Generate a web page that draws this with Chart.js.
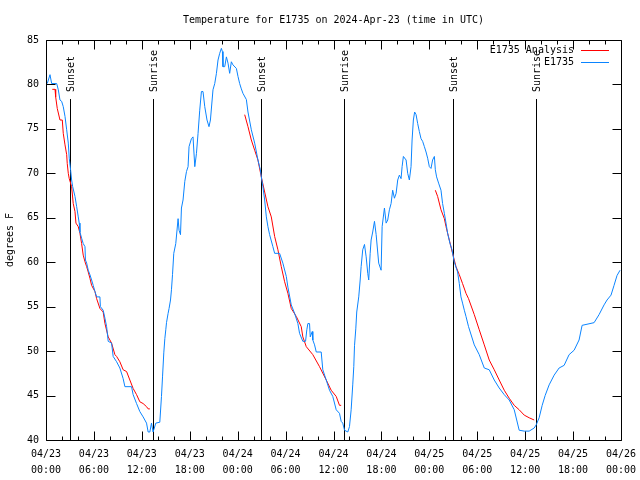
<!DOCTYPE html>
<html><head><meta charset="utf-8">
<script src="https://cdn.jsdelivr.net/npm/chart.js@4.4.1/dist/chart.umd.min.js"></script>
<style>html,body{margin:0;padding:0;background:#fff}canvas{display:block}</style>
</head><body>
<canvas id="c" width="640" height="480"></canvas>
<script>
// ---- data (hours since 2024-04-23 00:00 UTC, degrees F) ----
const obsHours = [0.16,0.5,0.71,1.34,1.54,1.75,1.96,2.16,2.38,2.59,2.79,2.91,3.09,3.21,3.34,3.63,3.84,4.04,4.16,4.25,4.46,4.66,4.88,4.94,5.09,5.29,5.5,5.71,5.91,6.13,6.34,6.75,6.81,7.16,7.38,7.59,7.79,8.21,8.41,8.84,9.25,9.66,9.88,10.71,10.91,11.34,11.75,12.16,12.59,12.79,13.0,13.21,13.41,13.75,14.25,14.46,14.59,14.75,14.88,15.0,15.09,15.29,15.41,15.59,15.71,15.84,16.0,16.25,16.54,16.66,16.84,16.96,17.16,17.38,17.59,17.79,17.91,18.21,18.41,18.63,18.84,19.04,19.25,19.46,19.66,19.88,20.16,20.41,20.59,20.91,21.13,21.34,21.54,21.75,21.96,22.09,22.16,22.38,22.59,22.79,23.0,23.21,23.41,23.84,24.04,24.25,24.46,24.66,25.09,25.29,25.71,26.13,26.54,26.84,26.96,27.16,27.38,27.59,27.79,28.0,28.41,28.63,29.25,29.66,30.09,30.29,30.71,31.13,31.54,31.75,32.16,32.5,32.66,32.79,33.0,33.09,33.34,33.41,33.63,33.84,34.46,34.66,35.09,35.5,35.91,36.34,36.75,36.96,37.16,37.38,37.79,38.0,38.21,38.41,38.54,38.63,38.79,38.91,39.16,39.34,39.46,39.66,39.88,40.09,40.29,40.41,40.59,40.71,40.91,41.13,41.34,41.66,41.96,42.09,42.38,42.59,42.79,43.0,43.21,43.41,43.63,43.84,44.04,44.25,44.46,44.59,44.75,45.09,45.29,45.5,45.71,45.84,46.0,46.16,46.34,46.54,46.75,46.96,47.16,47.38,47.59,47.79,48.0,48.21,48.41,48.63,48.75,48.91,49.16,49.46,49.66,49.88,50.09,50.29,50.59,50.84,51.13,51.54,51.75,51.96,52.16,52.38,52.59,52.91,53.63,54.25,54.88,55.5,56.13,56.75,57.38,58.0,58.63,59.25,59.88,60.5,61.13,61.38,61.75,62.13,62.5,63.0,63.63,64.25,64.88,65.5,66.13,66.75,67.13,68.63,69.25,69.88,70.25,70.75,71.13,71.5,71.88];
const obsTemps = [80.1,81.1,80.1,80.1,79.4,78.25,78.1,77.5,76.4,74.9,73.4,71.7,70.3,69.25,68.5,67.4,66.25,65.1,64.4,63.4,62.7,62.1,61.75,60.25,59.9,59.1,58.6,58.0,57.4,56.7,56.1,56.1,55.0,54.6,53.7,52.75,51.1,50.9,49.4,48.8,48.1,46.9,46.0,46.0,45.1,44.1,43.2,42.6,41.9,40.9,40.9,41.9,40.9,41.9,42.0,44.9,47.1,49.8,51.4,52.4,53.2,54.25,54.8,55.75,56.9,58.6,61.0,62.1,64.9,63.6,63.1,66.1,67.0,69.1,70.2,70.75,73.0,73.9,74.1,70.75,72.25,74.5,77.1,79.2,79.2,77.5,76.0,75.25,76.0,79.4,80.1,81.25,82.75,83.5,84.06,83.7,82.0,82.0,83.1,82.4,81.25,82.55,82.2,81.8,80.9,80.1,79.5,79.0,78.3,76.9,74.9,73.4,71.5,70.4,69.6,68.5,67.0,65.1,64.0,63.1,61.75,61.0,61.0,59.9,58.4,57.2,55.2,54.25,53.1,52.0,51.1,51.1,52.4,53.1,53.1,51.6,52.2,51.25,50.7,49.9,49.9,47.9,46.75,45.6,44.9,43.4,43.0,42.1,41.9,41.1,40.9,41.5,43.4,46.2,48.25,50.6,52.5,54.4,56.1,58.0,59.5,61.4,62.0,60.6,58.75,58.0,61.0,62.5,63.4,64.6,63.1,59.9,59.1,64.0,66.1,64.4,64.75,65.9,66.6,68.1,67.2,67.75,69.25,69.8,69.4,70.75,71.9,71.5,70.0,69.25,70.75,73.75,76.0,76.9,76.6,75.6,74.7,73.9,73.6,73.0,72.4,71.7,70.75,70.55,71.5,71.9,70.4,69.6,68.9,68.1,66.6,65.5,64.4,63.25,62.1,61.4,60.0,58.9,57.6,56.1,55.4,54.6,53.9,52.75,50.7,49.6,48.1,47.9,46.75,45.85,45.1,44.5,43.4,41.1,41.0,41.0,41.35,41.7,42.5,43.9,45.0,46.2,47.3,48.1,48.4,49.6,50.1,51.25,52.9,53.2,54.1,55.2,55.75,56.3,57.4,58.5,59.1];

const ana1Hours = [0.79,1.13,1.21,1.41,1.75,2.04,2.16,2.38,2.59,2.66,2.79,2.91,3.21,3.41,3.63,3.75,4.04,4.25,4.46,4.66,4.88,5.09,5.29,5.5,5.71,6.13,6.34,6.75,7.16,7.38,7.79,8.21,8.63,8.84,9.25,9.66,10.09,10.5,10.91,11.34,11.75,12.16,12.59,12.79,13.0];
const ana1Temps = [79.45,79.45,78.6,77.3,76.0,76.0,74.5,73.2,72.1,71.1,70.0,69.4,68.5,66.6,65.7,64.4,64.0,63.25,62.1,60.8,60.05,59.5,58.9,58.2,57.4,56.7,55.9,54.8,54.4,53.1,51.6,50.9,49.6,49.4,48.8,47.9,47.7,46.75,45.8,45.1,44.3,44.1,43.75,43.5,43.5];
const ana2Hours = [24.88,25.29,25.71,26.13,26.54,26.96,27.38,27.79,28.21,28.63,29.04,29.46,29.88,30.29,30.71,31.34,31.96,32.16,32.59,33.41,34.25,35.09,35.71,36.34,36.75,36.96];
const ana2Temps = [76.6,75.25,73.75,72.6,71.5,69.6,67.9,66.25,65.1,62.9,61.4,59.5,57.8,56.5,54.8,53.9,52.75,51.6,50.5,49.6,48.25,46.75,45.6,44.9,43.9,43.9];
const ana3Hours = [48.75,49.04,49.46,49.88,50.09,50.5,50.91,51.34,51.75,52.16,52.59,52.91,53.63,54.25,54.88,55.5,56.13,56.75,57.38,58.0,58.63,59.25,59.88,60.5,61.13];
const ana3Temps = [68.1,67.4,65.9,64.9,64.0,62.5,61.0,59.5,58.6,57.6,56.5,55.9,54.1,52.4,50.7,49.0,47.9,46.75,45.6,44.7,43.9,43.4,42.8,42.5,42.25];

const sunsetHours = [3.0, 26.95, 50.92];
const sunriseHours = [13.4, 37.35, 61.35];

const tickDates = ['04/23','04/23','04/23','04/23','04/24','04/24','04/24','04/24','04/25','04/25','04/25','04/25','04/26'];
const tickTimes = ['00:00','06:00','12:00','18:00','00:00','06:00','12:00','18:00','00:00','06:00','12:00','18:00','00:00'];
const yTickValues = [40,45,50,55,60,65,70,75,80,85];

const titleText = 'Temperature for E1735 on 2024-Apr-23 (time in UTC)';
const seriesNames = ['E1735 Analysis','E1735'];
const RED = '#ff0000', BLUE = '#0a84ff';
const FONT = '"DejaVu Sans Mono", "Liberation Mono", monospace';

const pts = (hs, ts) => hs.map((h, i) => ({x: h, y: ts[i]}));

Chart.defaults.font.family = FONT;
Chart.defaults.font.size = 10;
Chart.defaults.color = '#000';

const decor = {
  id: 'decor',
  beforeDatasetsDraw(chart) {
    const {ctx, chartArea: a, scales: {x}} = chart;
    ctx.save();
    ctx.strokeStyle = '#000'; ctx.lineWidth = 1;
    const lines = [...sunsetHours.map(h => [h, 'Sunset']), ...sunriseHours.map(h => [h, 'Sunrise'])];
    ctx.font = '10px ' + FONT; ctx.fillStyle = '#000';
    for (const [h, txt] of lines) {
      const px = Math.round(x.getPixelForValue(h)) + 0.5;
      ctx.beginPath(); ctx.moveTo(px, a.top + 59); ctx.lineTo(px, a.bottom); ctx.stroke();
      ctx.save();
      ctx.translate(px + 1, a.top + 52);
      ctx.rotate(-Math.PI / 2);
      ctx.textAlign = 'left'; ctx.textBaseline = 'middle';
      ctx.fillText(txt, 0, 0);
      ctx.restore();
    }
    ctx.restore();
  },
  afterDraw(chart) {
    const {ctx, chartArea: a, scales: {x, y}} = chart;
    ctx.save();
    ctx.strokeStyle = '#000'; ctx.lineWidth = 1;
    const L = Math.round(a.left) + 0.5, R = Math.round(a.right) + 0.5;
    const T = Math.round(a.top) + 0.5, B = Math.round(a.bottom) + 0.5;
    ctx.beginPath();
    ctx.rect(L, T, R - L, B - T);
    for (let h = 0; h <= 72; h += 2) {
      const px = Math.round(x.getPixelForValue(h)) + 0.5;
      const len = (h % 6 === 0) ? 9 : 4;
      ctx.moveTo(px, B); ctx.lineTo(px, B - len);
      ctx.moveTo(px, T); ctx.lineTo(px, T + len);
    }
    for (const v of yTickValues) {
      const py = Math.round(y.getPixelForValue(v)) + 0.5;
      ctx.moveTo(L, py); ctx.lineTo(L + 9, py);
      ctx.moveTo(R, py); ctx.lineTo(R - 9, py);
    }
    ctx.stroke();
    // legend
    ctx.font = '10px ' + FONT; ctx.fillStyle = '#000';
    ctx.textAlign = 'right'; ctx.textBaseline = 'middle';
    const colors = [RED, BLUE];
    seriesNames.forEach((n, i) => {
      const ly = a.top + 10 + i * 12;
      ctx.fillText(n, a.right - 47, ly);
      ctx.strokeStyle = colors[i];
      ctx.beginPath(); ctx.moveTo(a.right - 40, Math.round(ly) + 0.5); ctx.lineTo(a.right - 12, Math.round(ly) + 0.5); ctx.stroke();
    });
    ctx.restore();
  }
};

const mk = (data, color) => ({data, borderColor: color, borderWidth: 1, pointRadius: 0, fill: false, tension: 0});

new Chart(document.getElementById('c'), {
  type: 'line',
  data: {
    datasets: [
      Object.assign(mk(pts(obsHours, obsTemps), BLUE), {label: seriesNames[1]}),
      Object.assign(mk(pts(ana1Hours, ana1Temps), RED), {label: seriesNames[0]}),
      Object.assign(mk(pts(ana2Hours, ana2Temps), RED), {label: seriesNames[0]}),
      Object.assign(mk(pts(ana3Hours, ana3Temps), RED), {label: seriesNames[0]})
    ]
  },
  options: {
    responsive: false,
    animation: false,
    layout: {padding: {top: 0, right: 19, left: 0, bottom: 0}},
    plugins: {
      legend: {display: false},
      tooltip: {enabled: false},
      title: {display: true, text: titleText, fullSize: false, font: {size: 10, weight: 'normal', family: FONT}, padding: {top: 14, bottom: 14}, color: '#000'}
    },
    scales: {
      x: {
        type: 'linear', min: 0, max: 72,
        grid: {display: false, drawTicks: false},
        border: {display: false},
        ticks: {
          stepSize: 6, autoSkip: false, maxRotation: 0, padding: 6,
          font: {size: 10, family: FONT, lineHeight: 1.6},
          callback: (v) => { const i = Math.round(v / 6); return [tickDates[i], tickTimes[i]]; }
        },
        afterFit: (s) => { s.height = 40; s.paddingLeft = 0; s.paddingRight = 0; }
      },
      y: {
        type: 'linear', min: 40, max: 85,
        grid: {display: false, drawTicks: false},
        border: {display: false},
        ticks: {stepSize: 5, padding: 7, font: {size: 10, family: FONT}},
        title: {display: true, text: 'degrees F', font: {size: 10, family: FONT}, padding: {top: 4, bottom: 0}},
        afterFit: (s) => { s.width = 46; s.paddingTop = 0; s.paddingBottom = 0; }
      }
    }
  },
  plugins: [decor]
});
</script>
</body></html>
